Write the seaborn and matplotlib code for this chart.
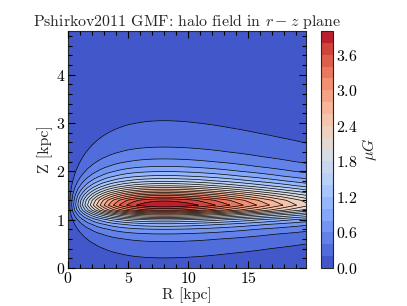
import numpy as np
import matplotlib
matplotlib.use("Agg")
import matplotlib.pyplot as plt
import seaborn as sns
from matplotlib.ticker import MultipleLocator

sns.set_style("ticks")
plt.rcParams['font.family'] = 'serif'
plt.rcParams['font.serif'] = ['cmr10']
plt.rcParams['mathtext.fontset'] = 'cm'
plt.rcParams['axes.formatter.use_mathtext'] = True
plt.rcParams['xtick.direction'] = 'in'
plt.rcParams['ytick.direction'] = 'in'
plt.rcParams['xtick.color'] = 'k'
plt.rcParams['ytick.color'] = 'k'

# Pshirkov2011 halo field parameters
B0_halo = 4.0      # muG, peak strength
z0_halo = 1.3      # kpc, height of peak
z1_below = 0.25    # kpc, scale for |z| < z0
z1_above = 0.4     # kpc, scale for |z| > z0
R0_halo = 8.0      # kpc, radius of peak

r_grid = np.arange(0, 20, 0.2)
z_grid = np.arange(0, 5, 0.1)
levels = np.arange(0, 4.01, 0.2)

R, Z = np.meshgrid(r_grid, z_grid)
z1 = np.where(np.abs(Z) < z0_halo, z1_below, z1_above)
B = B0_halo / (1 + ((np.abs(Z) - z0_halo) / z1) ** 2) * (R / R0_halo) * np.exp(1 - R / R0_halo)

cmap = sns.color_palette("coolwarm", as_cmap=True)
fs = 11.4

fig = plt.figure(figsize=(4.07, 3.06), dpi=100)
ax = fig.add_axes([68 / 407, 38 / 306, 238 / 407, 237 / 306])
cax = fig.add_axes([321 / 407, 38 / 306, 12 / 407, 237 / 306])

cf = ax.contourf(R, Z, B, levels=levels, cmap=cmap)
ax.contour(R, Z, B, levels=levels, colors='k', linewidths=0.5)
ax.set_axisbelow(False)

ax.xaxis.set_major_locator(MultipleLocator(5))
ax.xaxis.set_minor_locator(MultipleLocator(1))
ax.yaxis.set_major_locator(MultipleLocator(1))
ax.yaxis.set_minor_locator(MultipleLocator(0.2))
ax.tick_params(which='both', top=True, right=True, direction='in', labelsize=fs, width=0.8)
ax.tick_params(which='major', length=5, pad=2)
ax.tick_params(which='minor', length=3)
ax.set_xlabel('R [kpc]', fontsize=fs, labelpad=1)
ax.set_ylabel('Z [kpc]', fontsize=fs, labelpad=2)
ax.set_title(r'Pshirkov2011 GMF: halo field in $r-z$ plane', fontsize=fs, pad=3)

cb = fig.colorbar(cf, cax=cax, ticks=np.arange(0, 3.7, 0.6))
cb.ax.tick_params(labelsize=fs, length=0, pad=2)
cb.set_label(r'$\mu G$', fontsize=fs, labelpad=2)
cb.outline.set_linewidth(0.8)

fig.savefig('out.png', dpi=100)
